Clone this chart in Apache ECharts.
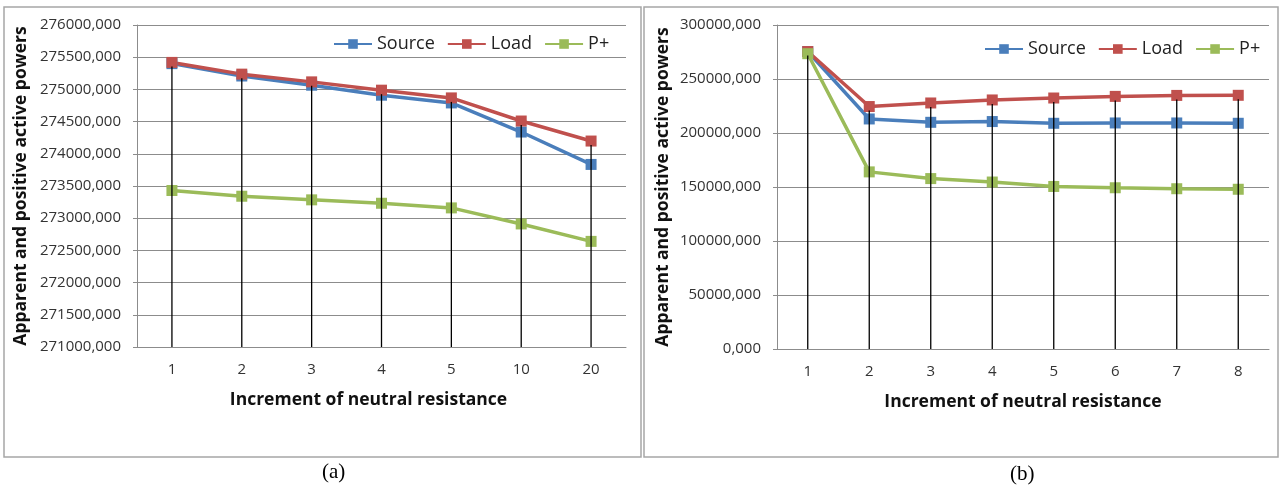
<!DOCTYPE html>
<html>
<head>
<meta charset="utf-8">
<script src="https://cdn.jsdelivr.net/npm/echarts@6/dist/echarts.min.js"></script>
<style>
html, body { margin: 0; padding: 0; background: #fff; }
#chart { width: 1280px; height: 492px; }
</style>
</head>
<body>
<div id="chart"></div>
<script>
// panel (a)
const catsA = ["1", "2", "3", "4", "5", "10", "20"];
const sourceA = [275400, 275208, 275065, 274910, 274790, 274338, 273835];
const loadA = [275419, 275237, 275117, 274988, 274868, 274509, 274198];
const pplusA = [273430, 273341, 273285, 273232, 273160, 272911, 272640];
const yMinA = 271000, yMaxA = 276000, yStepA = 500;

// panel (b)
const catsB = ["1", "2", "3", "4", "5", "6", "7", "8"];
const sourceB = [275400, 213000, 209900, 210600, 209000, 209300, 209300, 209000];
const loadB = [275419, 224500, 227800, 230600, 232400, 233900, 234800, 234900];
const pplusB = [273430, 164000, 157800, 154600, 150500, 149300, 148400, 147900];
const yMinB = 0, yMaxB = 300000, yStepB = 50000;

const seriesNames = ["Source", "Load", "P+"];
const color = ["#4A7EBB", "#C0504D", "#9BBB59"];
const font = "'Open Sans', 'Noto Sans', sans-serif";

const lineSeries = (name, data, idx, c) => ({
  name,
  type: "line",
  xAxisIndex: idx,
  yAxisIndex: idx,
  data,
  symbol: "rect",
  symbolSize: 11,
  z: 3,
  lineStyle: { color: c, width: 3.5 },
  itemStyle: { color: c },
  emphasis: { disabled: true }
});

// excel style drop lines from the top point down to the axis
const dropSeries = (cats, lists, yMin, idx) => ({
  type: "custom",
  xAxisIndex: idx,
  yAxisIndex: idx,
  silent: true,
  z: 4,
  data: cats.map((c, i) => [i, Math.max(...lists.map(l => l[i]))]),
  renderItem(params, api) {
    const top = api.coord([api.value(0), api.value(1)]);
    const bottom = api.coord([api.value(0), yMin]);
    return {
      type: "line",
      shape: { x1: top[0], y1: top[1] + 4, x2: bottom[0], y2: bottom[1] },
      style: { stroke: "#000", lineWidth: 1.3 }
    };
  }
});

const xAxis = (cats, idx, shift) => ({
  type: "category",
  gridIndex: idx,
  data: cats,
  axisTick: { show: false },
  axisLine: { lineStyle: { color: "#8c8c8c", width: 1 } },
  axisLabel: { color: "#333", fontSize: 15, fontFamily: font, margin: 15 },
  name: "Increment of neutral resistance",
  nameLocation: "middle",
  nameGap: 44,
  nameMoveOverlap: false,
  nameTextStyle: {
    color: "#111",
    fontSize: 17.5,
    fontWeight: "bold",
    fontFamily: font,
    padding: [0, shift, 0, 0]
  }
});

const yAxis = (min, max, step, idx, gap) => ({
  type: "value",
  gridIndex: idx,
  min,
  max,
  interval: step,
  axisLine: { show: true, lineStyle: { color: "#8c8c8c", width: 1 } },
  axisTick: { show: true, length: 4, lineStyle: { color: "#8c8c8c" } },
  splitLine: { lineStyle: { color: "#8c8c8c", width: 1 } },
  axisLabel: {
    color: "#333",
    fontSize: 15,
    fontFamily: font,
    margin: 16,
    formatter: v => v.toFixed(3).replace(".", ",")
  },
  name: "Apparent and positive active powers",
  nameLocation: "middle",
  nameGap: gap,
  nameMoveOverlap: false,
  nameTextStyle: { color: "#111", fontSize: 17.5, fontWeight: "bold", fontFamily: font }
});

const legend = (left, top) => ({
  left,
  top,
  data: seriesNames,
  itemWidth: 38,
  itemHeight: 12,
  itemGap: 12,
  selectedMode: false,
  textStyle: { color: "#222", fontSize: 18, fontFamily: font }
});

const chart = echarts.init(document.getElementById("chart"));
chart.setOption({
  animation: false,
  legend: [legend(328, 30), legend(979, 35)],
  grid: [
    { left: 137, top: 25, width: 489, height: 322 },
    { left: 777, top: 25, width: 492, height: 324 }
  ],
  xAxis: [xAxis(catsA, 0, 26), xAxis(catsB, 1, 0)],
  yAxis: [yAxis(yMinA, yMaxA, yStepA, 0, 107), yAxis(yMinB, yMaxB, yStepB, 1, 105)],
  series: [
    dropSeries(catsA, [sourceA, loadA, pplusA], yMinA, 0),
    lineSeries("Source", sourceA, 0, color[0]),
    lineSeries("Load", loadA, 0, color[1]),
    lineSeries("P+", pplusA, 0, color[2]),
    dropSeries(catsB, [sourceB, loadB, pplusB], yMinB, 1),
    lineSeries("Source", sourceB, 1, color[0]),
    lineSeries("Load", loadB, 1, color[1]),
    lineSeries("P+", pplusB, 1, color[2])
  ],
  graphic: [
    { type: "rect", shape: { x: 4, y: 7, width: 637, height: 450 }, style: { fill: "none", stroke: "#a6a6a6", lineWidth: 1.5 } },
    { type: "rect", shape: { x: 644, y: 7, width: 634, height: 450 }, style: { fill: "none", stroke: "#a6a6a6", lineWidth: 1.5 } },
    { type: "text", left: 322, top: 462, style: { text: "(a)", fontSize: 21, fontFamily: "'Liberation Serif', serif", fill: "#000" } },
    { type: "text", left: 1010, top: 464, style: { text: "(b)", fontSize: 21, fontFamily: "'Liberation Serif', serif", fill: "#000" } }
  ]
});
</script>
</body>
</html>
